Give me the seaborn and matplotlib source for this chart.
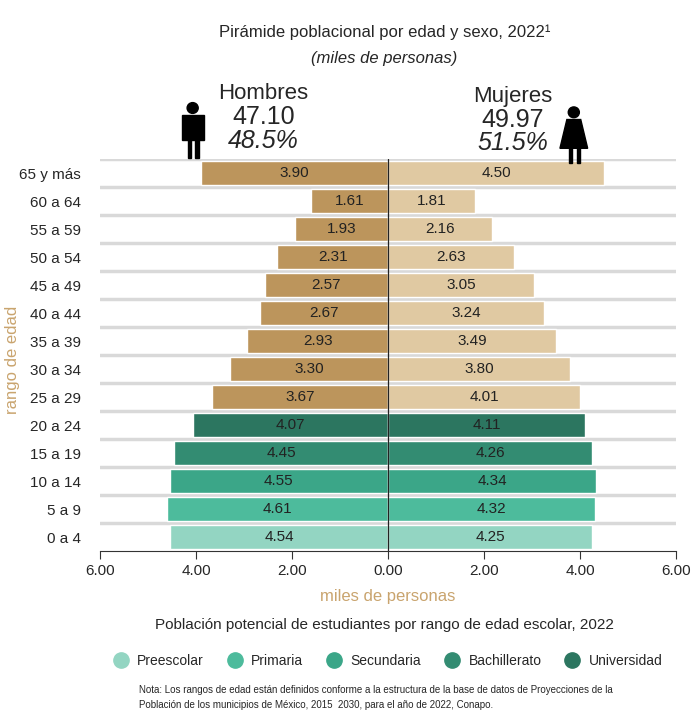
import matplotlib.pyplot as plt
import matplotlib.patches as mpatches
from matplotlib.lines import Line2D
import numpy as np
import pandas as pd
import seaborn as sns

ages = ["65 y más", "60 a 64", "55 a 59", "50 a 54", "45 a 49", "40 a 44", "35 a 39",
        "30 a 34", "25 a 29", "20 a 24", "15 a 19", "10 a 14", "5 a 9", "0 a 4"]
hombres = [3.90, 1.61, 1.93, 2.31, 2.57, 2.67, 2.93, 3.30, 3.67, 4.07, 4.45, 4.55, 4.61, 4.54]
mujeres = [4.50, 1.81, 2.16, 2.63, 3.05, 3.24, 3.49, 3.80, 4.01, 4.11, 4.26, 4.34, 4.32, 4.25]
niveles = ["Preescolar", "Primaria", "Secundaria", "Bachillerato", "Universidad"]
nivel_colors = ["#93d5c2", "#4dbb9c", "#3ba688", "#338c72", "#2c7660"]

brown_m = "#bc955c"
brown_f = "#e0c9a2"
col_m = [brown_m] * 9 + [nivel_colors[4], nivel_colors[3], nivel_colors[2], nivel_colors[1], nivel_colors[0]]
col_f = [brown_f] * 9 + [nivel_colors[4], nivel_colors[3], nivel_colors[2], nivel_colors[1], nivel_colors[0]]

sns.set_style("white")
plt.rcParams['font.family'] = ['Liberation Sans Narrow', 'Liberation Sans', 'DejaVu Sans']

df = pd.DataFrame({"edad": ages, "h": [-v for v in hombres], "m": mujeres})

fig = plt.figure(figsize=(6.93, 7.2), dpi=100)
ax = fig.add_axes([0.1443, 0.2347, 0.8312, 0.5443])
sns.barplot(data=df, x="h", y="edad", hue="edad", palette=col_m, orient="h",
            legend=False, ax=ax, width=0.86, saturation=1)
sns.barplot(data=df, x="m", y="edad", hue="edad", palette=col_f, orient="h",
            legend=False, ax=ax, width=0.86, saturation=1)

for i in range(len(ages)):
    ax.text(-hombres[i] / 2, i, f"{hombres[i]:.2f}", ha="center", va="center", fontsize=11, color="#222222")
    ax.text(mujeres[i] / 2, i, f"{mujeres[i]:.2f}", ha="center", va="center", fontsize=11, color="#222222")
for b in np.arange(-0.5, len(ages) - 0.5, 1.0):
    ax.axhline(b, color="#d9d9d9", lw=2.5, zorder=0)
ax.axvline(0, color="#222222", lw=0.9)

ax.set_xlim(-6, 6)
ax.set_ylim(len(ages) - 0.5, -0.5)
ticks = [-6, -4, -2, 0, 2, 4, 6]
ax.set_xticks(ticks)
ax.set_xticklabels([f"{abs(t):.2f}" for t in ticks], fontsize=11)
ax.tick_params(axis="x", length=6, color="#333333", direction="out", bottom=True)
ax.tick_params(axis="y", length=0, labelsize=11, pad=14)
for s in ["top", "right", "left"]:
    ax.spines[s].set_visible(False)
ax.spines["bottom"].set_color("#333333")
ax.set_xlabel("miles de personas", color="#c9a46e", fontsize=12, labelpad=8)
ax.set_ylabel("")
fig.text(0.018, 0.5, "rango de edad", rotation=90, color="#c9a46e", fontsize=12, ha="center", va="center")

fig.text(0.555, 0.948, "Pirámide poblacional por edad y sexo, 2022¹", ha="center", fontsize=12)
fig.text(0.555, 0.913, "(miles de personas)", ha="center", fontsize=12, style="italic")
fig.text(0.38, 0.862, "Hombres", ha="center", fontsize=16)
fig.text(0.38, 0.828, "47.10", ha="center", fontsize=18)
fig.text(0.38, 0.795, "48.5%", ha="center", fontsize=18, style="italic")
fig.text(0.74, 0.858, "Mujeres", ha="center", fontsize=16)
fig.text(0.74, 0.824, "49.97", ha="center", fontsize=18)
fig.text(0.74, 0.791, "51.5%", ha="center", fontsize=18, style="italic")

# simple person pictograms
def person(cx, top, dress):
    w = 0.032
    fig.patches.append(mpatches.Ellipse((cx, top - 0.008), 0.016, 0.015, transform=fig.transFigure, color="black"))
    if dress:
        fig.patches.append(mpatches.Polygon([(cx - 0.010, top - 0.018), (cx + 0.010, top - 0.018),
                                             (cx + 0.020, top - 0.058), (cx - 0.020, top - 0.058)],
                                            transform=fig.transFigure, color="black"))
    else:
        fig.patches.append(mpatches.Rectangle((cx - w / 2, top - 0.052), w, 0.034,
                                              transform=fig.transFigure, color="black"))
    for dx in (-0.007, 0.004):
        fig.patches.append(mpatches.Rectangle((cx + dx, top - 0.078), 0.005, 0.028,
                                              transform=fig.transFigure, color="black"))

person(0.278, 0.858, False)
person(0.828, 0.852, True)

fig.text(0.555, 0.127, "Población potencial de estudiantes por rango de edad escolar, 2022", ha="center", fontsize=11)
handles = [Line2D([], [], marker="o", ls="", markersize=11, color=c, label=n) for n, c in zip(niveles, nivel_colors)]
fig.legend(handles=handles, loc="center", bbox_to_anchor=(0.555, 0.082), ncol=5, frameon=False,
           fontsize=10, handletextpad=0.2, columnspacing=1.2)
fig.text(0.2, 0.037, "Nota: Los rangos de edad están definidos conforme a la estructura de la base de datos de Proyecciones de la",
         fontsize=7)
fig.text(0.2, 0.017, "Población de los municipios de México, 2015  2030, para el año de 2022, Conapo.", fontsize=7)

fig.savefig("out.png", dpi=100)
